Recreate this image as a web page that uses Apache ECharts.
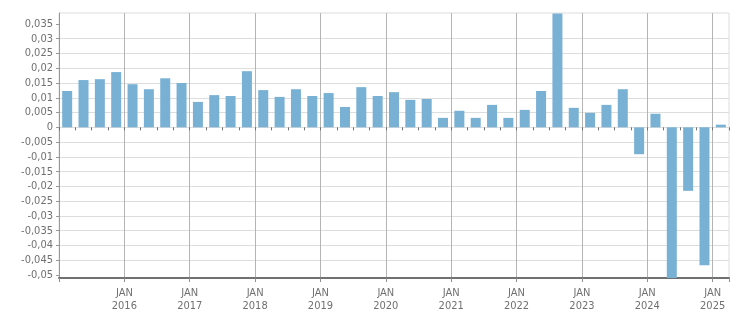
<!DOCTYPE html>
<html>
<head>
<meta charset="utf-8">
<script src="https://cdn.jsdelivr.net/npm/echarts@6/dist/echarts.min.js"></script>
<style>
html,body{margin:0;padding:0;background:#fff;}
#c{width:751px;height:313px;}
</style>
</head>
<body>
<div id="c"></div>
<script>
// Quarterly values, Q1 2015 .. Q1 2025
const quarters = ['2015Q1','2015Q2','2015Q3','2015Q4','2016Q1','2016Q2','2016Q3','2016Q4','2017Q1','2017Q2','2017Q3','2017Q4','2018Q1','2018Q2','2018Q3','2018Q4','2019Q1','2019Q2','2019Q3','2019Q4','2020Q1','2020Q2','2020Q3','2020Q4','2021Q1','2021Q2','2021Q3','2021Q4','2022Q1','2022Q2','2022Q3','2022Q4','2023Q1','2023Q2','2023Q3','2023Q4','2024Q1','2024Q2','2024Q3','2024Q4','2025Q1'];
const values = [0.0123,0.0160,0.0163,0.0187,0.0146,0.0129,0.0166,0.0150,0.0086,0.0109,0.0106,0.0190,0.0126,0.0103,0.0129,0.0106,0.0116,0.0069,0.0136,0.0106,0.0119,0.0093,0.0096,0.0032,0.0056,0.0032,0.0076,0.0032,0.0059,0.0123,0.0385,0.0066,0.0049,0.0076,0.0129,-0.0091,0.0046,-0.0560,-0.0215,-0.0467,0.0009];
const yTicks = [-0.05,-0.045,-0.04,-0.035,-0.03,-0.025,-0.02,-0.015,-0.01,-0.005,0,0.005,0.01,0.015,0.02,0.025,0.03,0.035];
const yearLabels = ['2016','2017','2018','2019','2020','2021','2022','2023','2024','2025'];
const monthLabel = 'JAN';

const yMin = -0.051, yMax = 0.0387;
const font = "Tahoma, 'DejaVu Sans Condensed', 'DejaVu Sans', sans-serif";
const txt = '#707070';

const seriesData = values.map((v, i) => [i + 0.5, v]);

const chart = echarts.init(document.getElementById('c'), null, {renderer: 'canvas'});
chart.setOption({
  animation: false,
  backgroundColor: '#ffffff',
  grid: {left: 59, right: 22, top: 13, bottom: 32, show: true, borderColor: '#dddddd', borderWidth: 1, containLabel: false},
  xAxis: [{
    type: 'value', min: 0, max: quarters.length, interval: 4, position: 'bottom',
    axisLine: {show: true, onZero: false, lineStyle: {color: '#707070', width: 2}},
    axisTick: {show: true, length: 4, lineStyle: {color: '#909090'}},
    splitLine: {show: true, showMinLine: false, showMaxLine: false, lineStyle: {color: '#b4b4b4', width: 1}},
    axisLabel: {
      show: true, margin: 9, color: txt, fontFamily: font, fontSize: 11, lineHeight: 13,
      formatter: function (v) {
        const k = Math.round(v);
        if (k !== v || k % 4 !== 0 || k === 0) return '';
        const y = yearLabels[k / 4 - 1];
        return y ? monthLabel + '\n' + y : '';
      }
    }
  }, {
    type: 'value', min: 0, max: quarters.length, interval: 1, position: 'bottom',
    axisLine: {show: false},
    axisTick: {show: true, length: 3, lineStyle: {color: '#707070'}},
    splitLine: {show: false},
    axisLabel: {show: false}
  }],
  yAxis: {
    type: 'value', min: yMin, max: yMax,
    axisLine: {show: true, onZero: false, lineStyle: {color: '#999999', width: 1}},
    axisTick: {show: true, length: 3, customValues: yTicks, lineStyle: {color: '#999999'}},
    splitLine: {show: true, showMinLine: false, showMaxLine: false, lineStyle: {color: '#dddddd', width: 1}},
    axisLabel: {
      show: true, margin: 6, color: txt, fontFamily: font, fontSize: 11, customValues: yTicks,
      formatter: function (v) { return String(+v.toFixed(3)).replace('.', ','); }
    }
  },
  series: [{
    type: 'bar', xAxisIndex: 0, yAxisIndex: 0, data: seriesData, barWidth: 10,
    itemStyle: {color: '#78b1d4'}, clip: true
  }]
});
</script>
</body>
</html>
